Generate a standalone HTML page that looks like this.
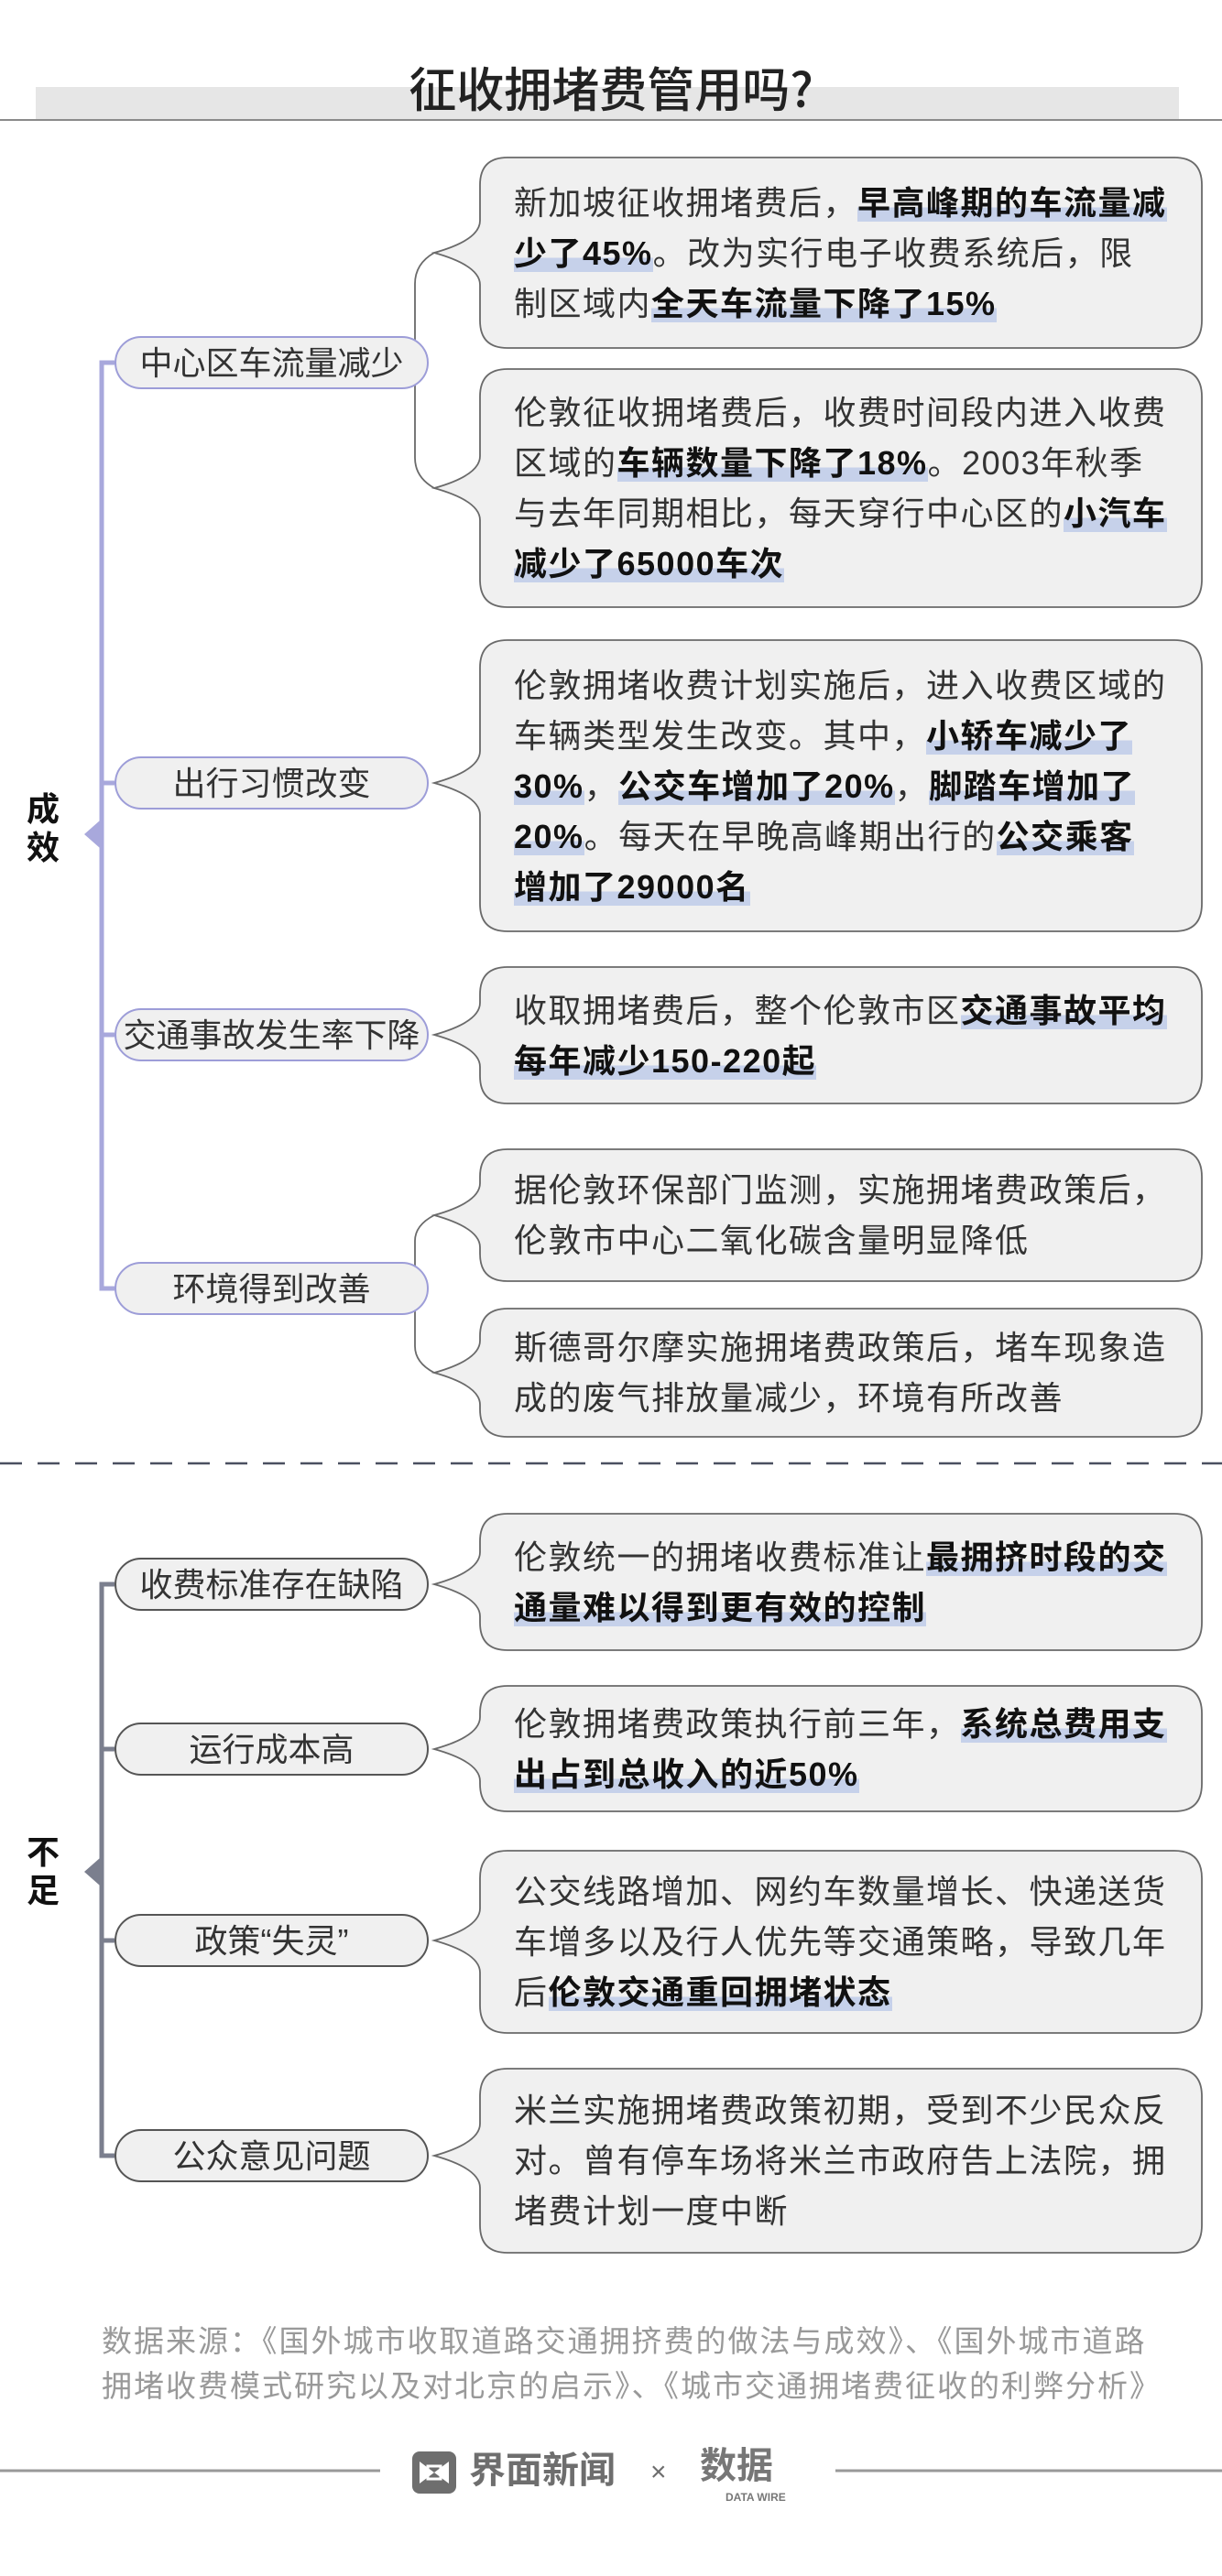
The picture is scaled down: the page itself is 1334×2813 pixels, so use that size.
<!DOCTYPE html>
<html><head><meta charset="utf-8"><style>
*{margin:0;padding:0;box-sizing:border-box}
body{width:1334px;height:2813px;background:#fff;position:relative;overflow:hidden;font-family:"Liberation Sans","Noto Sans CJK SC",sans-serif;color:#333}
.abs{position:absolute}
.title{left:0;width:1334px;top:62px;text-align:center;font-size:52px;line-height:66px;color:#222;font-family:"Noto Sans CJK SC",sans-serif;font-weight:500}
.box{position:absolute;left:524px;width:788px;display:flex;align-items:center;padding-left:37px;font-size:36px;line-height:55px;letter-spacing:1.5px;white-space:nowrap;color:#333}
.box b{color:#111;font-weight:bold;background:linear-gradient(to bottom,transparent 62%,#c6d1ea 62%)}
.node{position:absolute;left:125px;width:343px;height:58px;border-radius:29px;background:#f0f0f0;font-size:36px;line-height:56px;text-align:center;white-space:nowrap;color:#333}
.up{border:2px solid #9d9dd8}
.lo{border:2px solid #555}
.lab{position:absolute;left:27px;width:40px;font-size:36px;font-weight:bold;line-height:42px;color:#111;text-align:center}
.src{left:111px;top:2532px;font-size:33px;line-height:49px;color:#999;white-space:nowrap;letter-spacing:2px}
</style></head><body>
<div class="abs" style="left:39px;top:95px;width:1248px;height:36px;background:#e6e6e6"></div>
<div class="abs" style="left:0;top:130px;width:1334px;height:2px;background:#8a8a8a"></div>
<div class="abs title">征收拥堵费管用吗?</div>

<svg class="abs" style="left:0;top:0" width="1334" height="2813" viewBox="0 0 1334 2813">
<g fill="#f0f0f0" stroke="#6a6a6a" stroke-width="1.8">
<path d="M554,172 H1282 Q1312,172 1312,202 V350 Q1312,380 1282,380 H554 Q524,380 524,350 V311 Q524,290 474,276 Q524,262 524,241 V202 Q524,172 554,172 Z"/>
<path d="M554,403 H1282 Q1312,403 1312,433 V633 Q1312,663 1282,663 H554 Q524,663 524,633 V568 Q524,547 474,533 Q524,519 524,498 V433 Q524,403 554,403 Z"/>
<path d="M554,699 H1282 Q1312,699 1312,729 V987 Q1312,1017 1282,1017 H554 Q524,1017 524,987 V890 Q524,869 474,855 Q524,841 524,820 V729 Q524,699 554,699 Z"/>
<path d="M554,1056 H1282 Q1312,1056 1312,1086 V1175 Q1312,1205 1282,1205 H554 Q524,1205 524,1175 V1165 Q524,1144 474,1130 Q524,1116 524,1095 V1086 Q524,1056 554,1056 Z"/>
<path d="M554,1255 H1282 Q1312,1255 1312,1285 V1369 Q1312,1399 1282,1399 H554 Q524,1399 524,1369 V1362 Q524,1341 474,1327 Q524,1313 524,1292 V1285 Q524,1255 554,1255 Z"/>
<path d="M554,1429 H1282 Q1312,1429 1312,1459 V1539 Q1312,1569 1282,1569 H554 Q524,1569 524,1539 V1534 Q524,1513 474,1499 Q524,1485 524,1464 V1459 Q524,1429 554,1429 Z"/>
<path d="M554,1653 H1282 Q1312,1653 1312,1683 V1772 Q1312,1802 1282,1802 H554 Q524,1802 524,1772 V1765 Q524,1744 474,1730 Q524,1716 524,1695 V1683 Q524,1653 554,1653 Z"/>
<path d="M554,1841 H1282 Q1312,1841 1312,1871 V1948 Q1312,1978 1282,1978 H554 Q524,1978 524,1948 V1945 Q524,1924 474,1910 Q524,1896 524,1875 V1871 Q524,1841 554,1841 Z"/>
<path d="M554,2021 H1282 Q1312,2021 1312,2051 V2190 Q1312,2220 1282,2220 H554 Q524,2220 524,2190 V2154 Q524,2133 474,2119 Q524,2105 524,2084 V2051 Q524,2021 554,2021 Z"/>
<path d="M554,2259 H1282 Q1312,2259 1312,2289 V2430 Q1312,2460 1282,2460 H554 Q524,2460 524,2430 V2389 Q524,2368 474,2354 Q524,2340 524,2319 V2289 Q524,2259 554,2259 Z"/>
</g>
<g fill="none" stroke="#6a6a6a" stroke-width="1.8">
<path d="M474,276 Q453,288 453,310 V500 Q453,521 474,533"/>
<path d="M474,1327 Q453,1338 453,1355 V1470 Q453,1488 474,1499"/>
</g>
<g stroke="#a8a8dc" stroke-width="5" fill="none">
<path d="M125,396 H111 V1407 H125"/>
<path d="M111,855 H125 M111,1130 H125"/>
</g>
<path d="M109,896 L92,911 L109,926 Z" fill="#a8a8dc"/>
<g stroke="#7b7f8e" stroke-width="5" fill="none">
<path d="M125,1730 H111 V2354 H125"/>
<path d="M111,1910 H125 M111,2119 H125"/>
</g>
<path d="M109,2029 L92,2044 L109,2059 Z" fill="#7b7f8e"/>
<line x1="0" y1="1598" x2="1334" y2="1598" stroke="#4a5060" stroke-width="2.5" stroke-dasharray="24,17"/>
<line x1="0" y1="2698" x2="415" y2="2698" stroke="#999" stroke-width="3"/>
<line x1="912" y1="2698" x2="1334" y2="2698" stroke="#999" stroke-width="3"/>
<rect x="450" y="2677" width="48" height="46" rx="8" fill="#6e6e6e"/>
<path d="M458,2688 L474,2700 L458,2712 Z M490,2688 L474,2700 L490,2712 Z" fill="#fff"/>
<rect x="467" y="2693" width="14" height="14" fill="none" stroke="#fff" stroke-width="3"/>
</svg>

<div class="node up" style="top:367px">中心区车流量减少</div>
<div class="node up" style="top:826px">出行习惯改变</div>
<div class="node up" style="top:1101px">交通事故发生率下降</div>
<div class="node up" style="top:1378px">环境得到改善</div>
<div class="node lo" style="top:1701px">收费标准存在缺陷</div>
<div class="node lo" style="top:1881px">运行成本高</div>
<div class="node lo" style="top:2090px">政策“失灵”</div>
<div class="node lo" style="top:2325px">公众意见问题</div>

<div class="lab" style="top:863px">成<br>效</div>
<div class="lab" style="top:2002px">不<br>足</div>

<div class="box" style="top:172px;height:208px"><div>新加坡征收拥堵费后，<b>早高峰期的车流量减</b><br><b>少了45%</b>。改为实行电子收费系统后，限<br>制区域内<b>全天车流量下降了15%</b></div></div>
<div class="box" style="top:403px;height:260px"><div>伦敦征收拥堵费后，收费时间段内进入收费<br>区域的<b>车辆数量下降了18%</b>。2003年秋季<br>与去年同期相比，每天穿行中心区的<b>小汽车</b><br><b>减少了65000车次</b></div></div>
<div class="box" style="top:699px;height:318px"><div>伦敦拥堵收费计划实施后，进入收费区域的<br>车辆类型发生改变。其中，<b>小轿车减少了</b><br><b>30%</b>，<b>公交车增加了20%</b>，<b>脚踏车增加了</b><br><b>20%</b>。每天在早晚高峰期出行的<b>公交乘客</b><br><b>增加了29000名</b></div></div>
<div class="box" style="top:1056px;height:149px"><div>收取拥堵费后，整个伦敦市区<b>交通事故平均</b><br><b>每年减少150-220起</b></div></div>
<div class="box" style="top:1255px;height:144px"><div>据伦敦环保部门监测，实施拥堵费政策后，<br>伦敦市中心二氧化碳含量明显降低</div></div>
<div class="box" style="top:1429px;height:140px"><div>斯德哥尔摩实施拥堵费政策后，堵车现象造<br>成的废气排放量减少，环境有所改善</div></div>
<div class="box" style="top:1653px;height:149px"><div>伦敦统一的拥堵收费标准让<b>最拥挤时段的交</b><br><b>通量难以得到更有效的控制</b></div></div>
<div class="box" style="top:1841px;height:137px"><div>伦敦拥堵费政策执行前三年，<b>系统总费用支</b><br><b>出占到总收入的近50%</b></div></div>
<div class="box" style="top:2021px;height:199px"><div>公交线路增加、网约车数量增长、快递送货<br>车增多以及行人优先等交通策略，导致几年<br>后<b>伦敦交通重回拥堵状态</b></div></div>
<div class="box" style="top:2259px;height:201px"><div>米兰实施拥堵费政策初期，受到不少民众反<br>对。曾有停车场将米兰市政府告上法院，拥<br>堵费计划一度中断</div></div>

<div class="abs src">数据来源：《国外城市收取道路交通拥挤费的做法与成效》、《国外城市道路<br>拥堵收费模式研究以及对北京的启示》、《城市交通拥堵费征收的利弊分析》</div>

<div class="abs" style="left:512px;top:2672px;font-size:40px;line-height:52px;font-weight:bold;color:#6e6e6e;white-space:nowrap">界面新闻</div>
<div class="abs" style="left:710px;top:2680px;font-size:30px;line-height:40px;color:#6e6e6e">×</div>
<div class="abs" style="left:764px;top:2668px;font-size:40px;line-height:50px;font-weight:bold;color:#777;white-space:nowrap">数据</div>
<div class="abs" style="left:792px;top:2720px;font-size:12px;line-height:14px;font-weight:bold;color:#777;white-space:nowrap">DATA WIRE</div>
</body></html>
